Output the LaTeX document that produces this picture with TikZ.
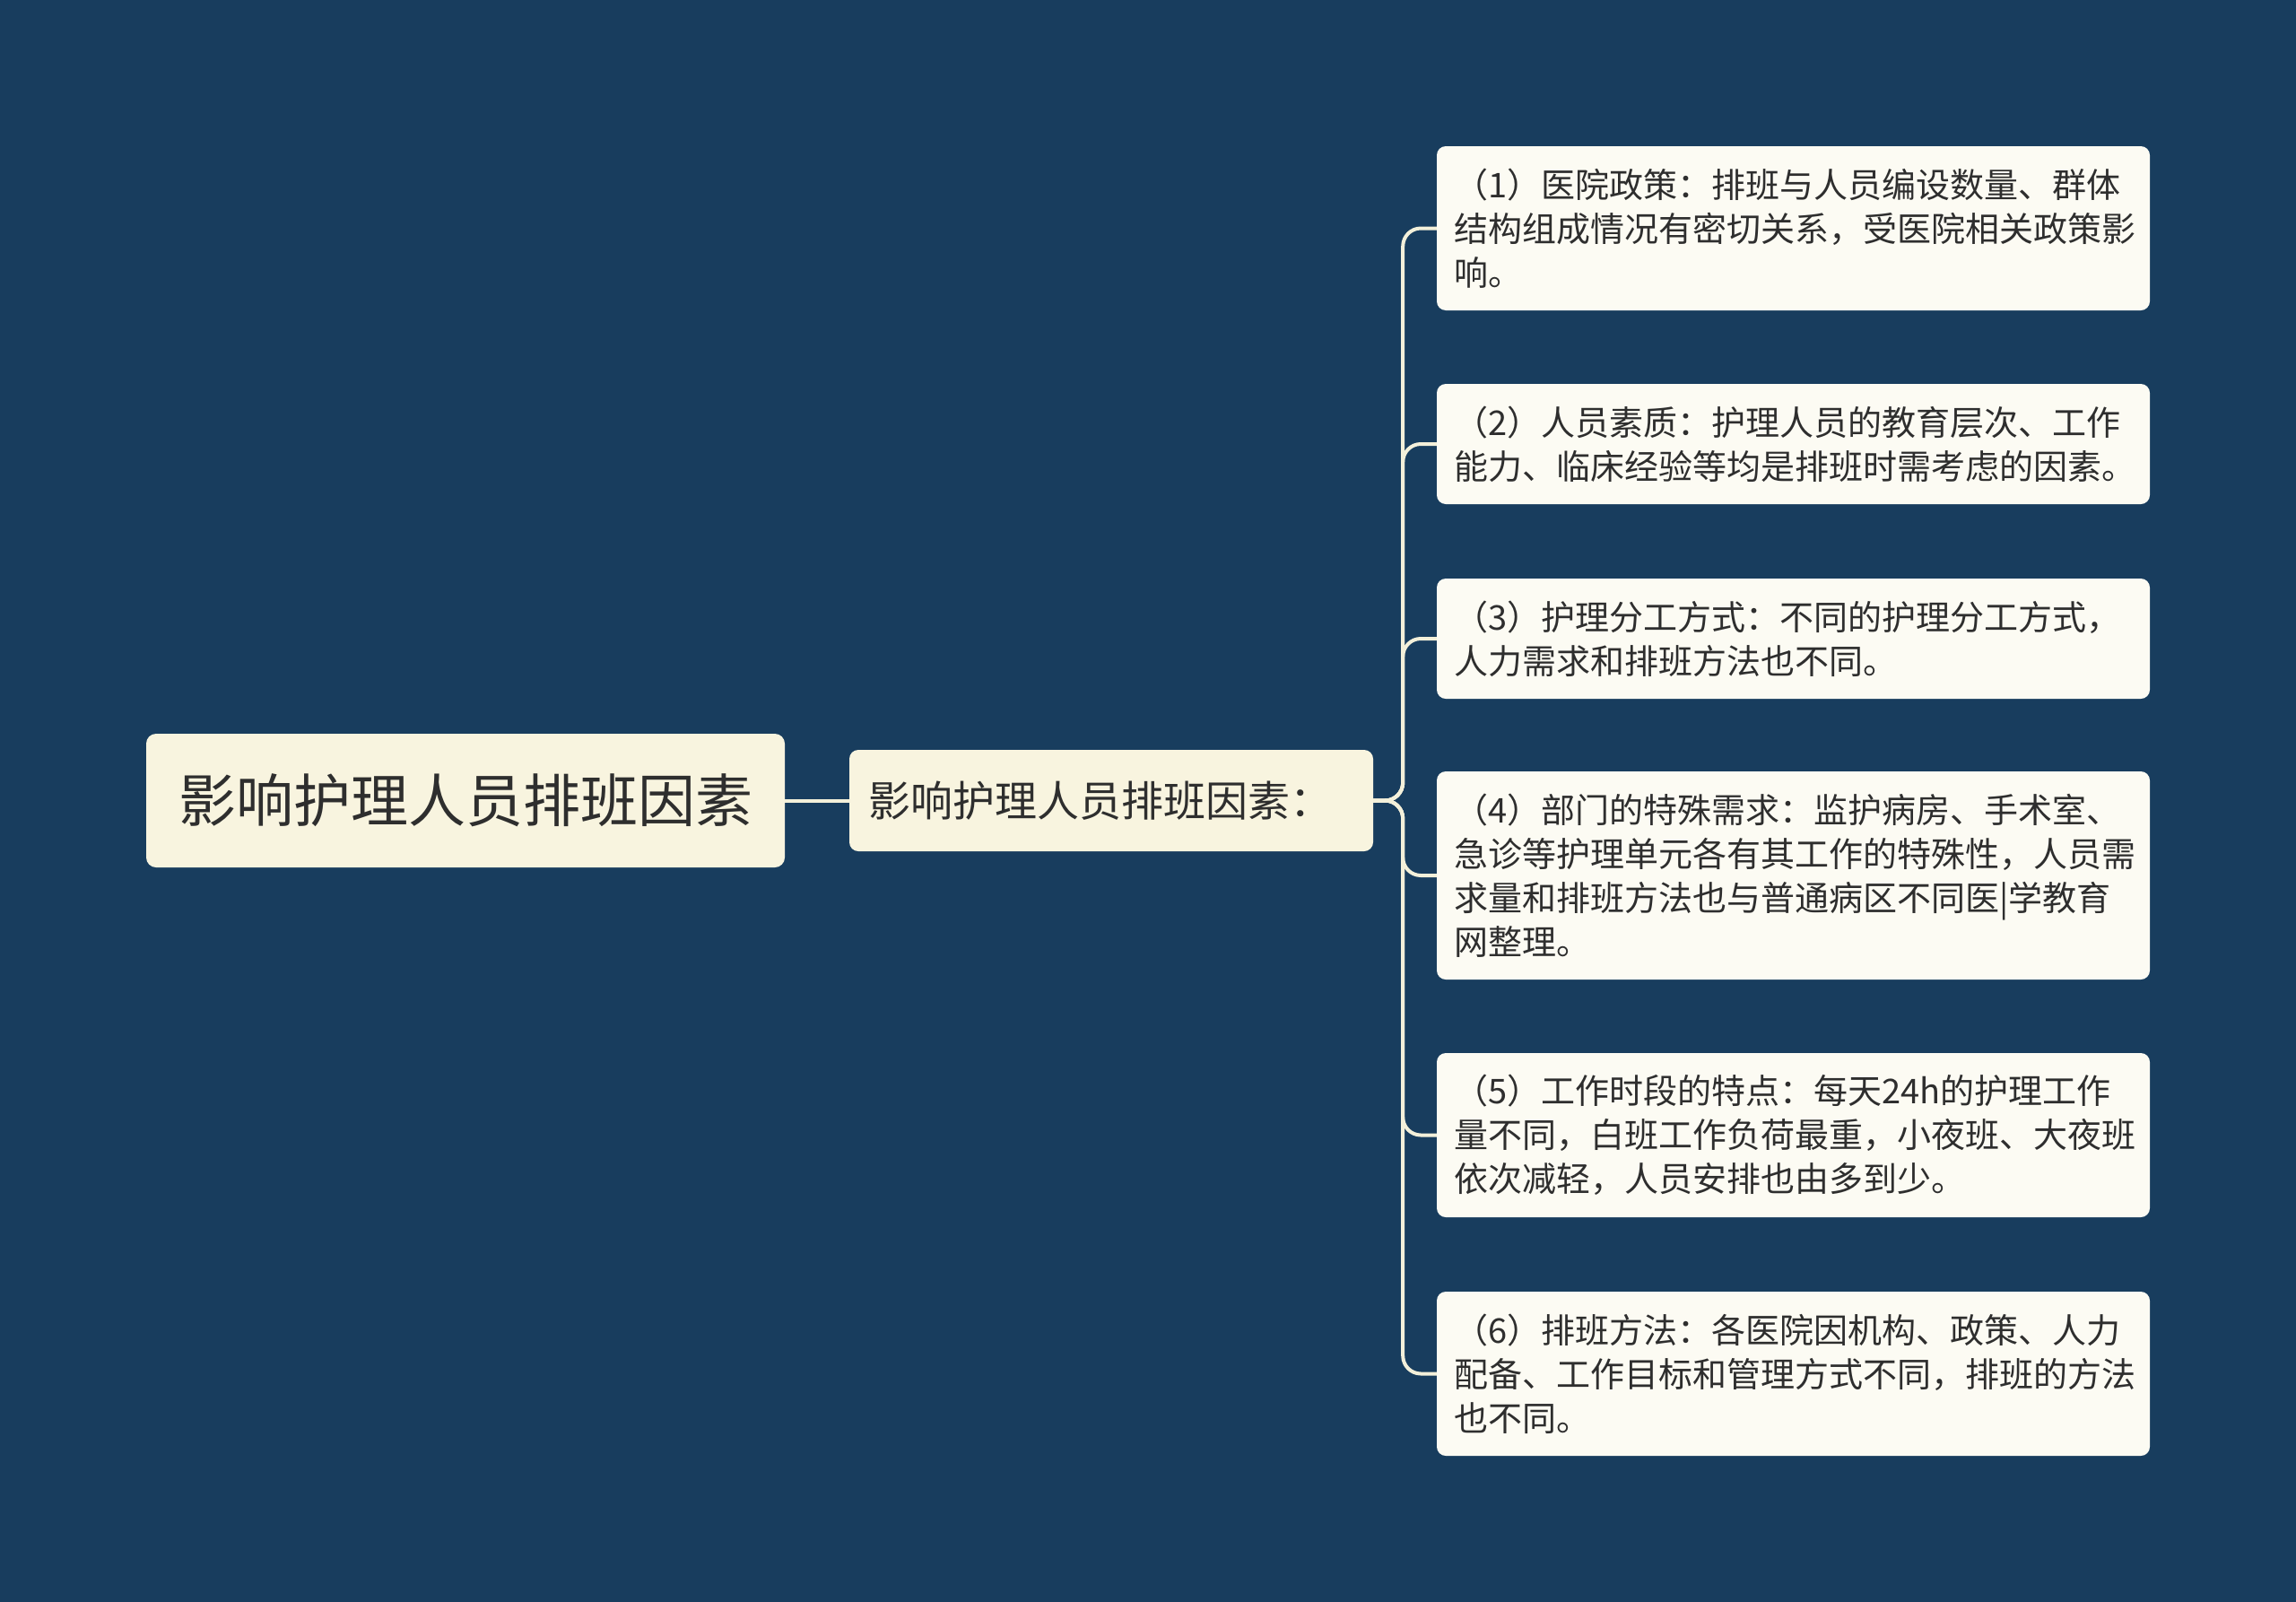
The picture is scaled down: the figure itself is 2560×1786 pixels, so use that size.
\documentclass[tikz,border=0pt]{standalone}
\usepackage{fontspec}
\newfontfamily\cjk{Noto Sans CJK SC}
\definecolor{bgc}{HTML}{183D5E}
\definecolor{rootfill}{HTML}{F8F4DF}
\definecolor{leaffill}{HTML}{FCFBF3}
\definecolor{linec}{HTML}{F3F0DA}
\definecolor{txt}{HTML}{2E2E2E}
\tikzset{
  rootbox/.style={rounded corners=11pt, fill=rootfill, text=txt, inner sep=0pt,
    minimum width=712pt, minimum height=149pt, font=\cjk\fontsize{64}{80}\selectfont},
  midbox/.style={rounded corners=10pt, fill=rootfill, text=txt, inner sep=0pt,
    minimum width=584pt, minimum height=113pt, font=\cjk\fontsize{47}{60}\selectfont},
  leafbox/.style={rounded corners=10pt, fill=leaffill, text=txt, inner xsep=19pt, inner ysep=0pt,
    text width=757pt, align=left, font=\cjk\fontsize{38}{49}\selectfont},
  conn/.style={draw=linec, line width=4pt, rounded corners=20pt}
}
\begin{document}
\begin{tikzpicture}[x=1pt,y=-1pt]
\fill[bgc] (0,0) rectangle (2560,1786);
\useasboundingbox (0,0) rectangle (2560,1786);

\node[rootbox] (root) at (519,892.5) {影响护理人员排班因素};
\node[midbox] (mid) at (1239,892.5) {影响护理人员排班因素：\hspace*{24pt}};

\node[leafbox, minimum height=183pt] (l1) at (1999.5,254.5)
  {（1）医院政策：排班与人员编设数量、群体\\结构组成情况有密切关系，受医院相关政策影\\响。};
\node[leafbox, minimum height=134pt] (l2) at (1999.5,495)
  {（2）人员素质：护理人员的教育层次、工作\\能力、临床经验等均是排班时需考虑的因素。};
\node[leafbox, minimum height=134pt] (l3) at (1999.5,712)
  {（3）护理分工方式：不同的护理分工方式，\\人力需求和排班方法也不同。};
\node[leafbox, minimum height=232pt] (l4) at (1999.5,976)
  {（4）部门的特殊需求：监护病房、手术室、\\急诊等护理单元各有其工作的特殊性，人员需\\求量和排班方法也与普通病区不同医|学教育\\网整理。};
\node[leafbox, minimum height=183pt] (l5) at (1999.5,1265.5)
  {（5）工作时段的特点：每天24h的护理工作\\量不同，白班工作负荷最重，小夜班、大夜班\\依次减轻，人员安排也由多到少。};
\node[leafbox, minimum height=183pt] (l6) at (1999.5,1531.5)
  {（6）排班方法：各医院因机构、政策、人力\\配备、工作目标和管理方式不同，排班的方法\\也不同。};

\draw[conn] (root.east) -- (mid.west);
\foreach \n in {l1,l2,l3,l4,l5,l6}{
  \draw[conn] (mid.east) -- ++(33,0) |- (\n.west);
}
\end{tikzpicture}
\end{document}
